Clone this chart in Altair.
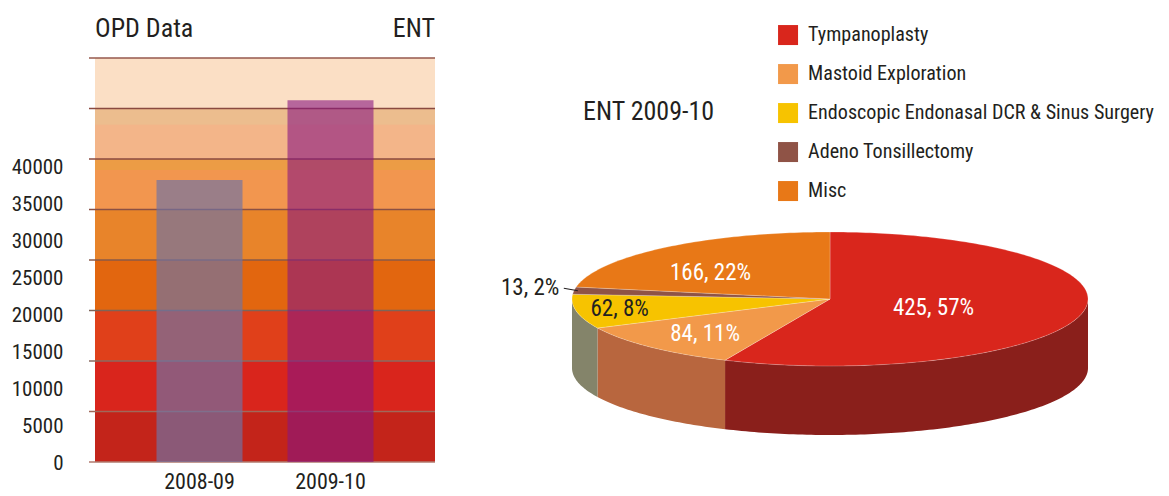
import math
import altair as alt
import pandas as pd

FONT = "Roboto Condensed"
INK = "#231f20"

# ---- left chart values
years = ["2008-09", "2009-10"]
opd = [38100, 48900]
tick_values = [0, 5000, 10000, 15000, 20000, 25000, 30000, 35000, 40000]
band_colors = ["#c3241a", "#d9251c", "#e0401a", "#e2660f", "#e8842a", "#f2964f", "#f3b589", "#fbdfc5"]
strip_lo = [5.78, 6.68]
strip_hi = [6.0, 7.0]
strip_colors = ["#ec9c45", "#ecbd8e"]
rule_colors = ["#b07a6e", "#a0685a", "#8a6a60", "#7e6458", "#8a5a48", "#8a5044", "#8a4a40", "#8a4a40", "#96584c"]
bar_colors = ["#7073a4", "#881681"]
bar_opacity = [0.68, 0.6]

# ---- pie values
names = ["Tympanoplasty", "Mastoid Exploration", "Endoscopic Endonasal DCR & Sinus Surgery", "Adeno Tonsillectomy", "Misc"]
counts = [425, 84, 62, 13, 166]
percents = [57, 11, 8, 2, 22]
pie_colors = ["#d9261c", "#f2994a", "#f7c300", "#8f5346", "#e87817"]
side_colors = ["#8a1f1b", "#b8663e", "#84846a", "#6b3a30", "#a85510"]
label_colors = ["#ffffff", "#ffffff", INK, INK, "#ffffff"]
label_radius = [0.41, 0.695, 0.83, 1.174, 0.615]
label_turn = [0, 0, 0, 1, -9]
label_drop = [3, 2, 0, 0, 1]

# ---- chart geometry (chart coordinates, page margin excluded)
W, H = 1153, 487
PLOT_L, PLOT_R, PLOT_T, PLOT_B = 87, 427, 50, 454
CX, CY, RX, RY, DEPTH = 822, 291, 258, 67, 69


def pt(deg, r=1.0, dy=0.0):
    a = math.radians(deg)
    return [CX + RX * r * math.sin(a), CY - RY * r * math.cos(a) + dy]


def arc(a, b, dy=0.0):
    n = max(2, int(abs(b - a)) + 2)
    return [pt(a + (b - a) * i / (n - 1), 1.0, dy) for i in range(n)]


total = sum(counts)
edges = [0.0]
for c in counts:
    edges.append(edges[-1] + c / total * 360)

tops, sides = [], []
for i, name in enumerate(names):
    a, b = edges[i], edges[i + 1]
    ring = [[CX, CY]] + arc(a, b) + [[CX, CY]]
    tops.append({"type": "Feature", "properties": {"name": name},
                 "geometry": {"type": "Polygon", "coordinates": [ring]}})
    lo, hi = max(a, 90), min(b, 270)
    if hi > lo:
        ring = arc(lo, hi) + arc(hi, lo, DEPTH)
        ring.append(ring[0])
        sides.append({"type": "Feature", "properties": {"name": name},
                      "geometry": {"type": "Polygon", "coordinates": [ring]}})


def geo(features):
    return alt.InlineData(values={"type": "FeatureCollection", "features": features},
                          format=alt.DataFormat(property="features", type="json"))


# ---- left chart
band_df = pd.DataFrame({"lo": range(8), "hi": range(1, 9), "c": band_colors})
band_y = alt.Scale(domain=[0, 8], range=[PLOT_B, PLOT_T])
bands = alt.Chart(band_df).mark_rect().encode(
    x=alt.value(PLOT_L), x2=alt.value(PLOT_R),
    y=alt.Y("lo:Q", scale=band_y, axis=None), y2="hi:Q",
    color=alt.Color("c:N", scale=None, legend=None),
)
strips = alt.Chart(pd.DataFrame({"lo": strip_lo, "hi": strip_hi, "c": strip_colors})).mark_rect().encode(
    x=alt.value(PLOT_L), x2=alt.value(PLOT_R),
    y=alt.Y("lo:Q", scale=band_y, axis=None), y2="hi:Q",
    color=alt.Color("c:N", scale=None, legend=None),
)

y_max = 40000 * (PLOT_B - PLOT_T) / 296
bar_df = pd.DataFrame({"year": years, "opd": opd, "c": bar_colors, "o": bar_opacity})
bars = alt.Chart(bar_df).mark_bar().encode(
    x=alt.X("year:N", title=None, sort=years,
            scale=alt.Scale(domain=years, range=[PLOT_L, PLOT_R], paddingInner=0.3435, paddingOuter=0.4696),
            axis=alt.Axis(orient="bottom", offset=PLOT_B - H, labelAngle=0, ticks=False, domain=False,
                          labelFont=FONT, labelFontSize=22, labelColor=INK, labelPadding=9)),
    y=alt.Y("opd:Q", title=None, scale=alt.Scale(domain=[0, y_max], range=[PLOT_B, PLOT_T], nice=False),
            axis=alt.Axis(orient="left", offset=-PLOT_L, values=tick_values, format="d", grid=False,
                          ticks=False, domain=False, labelFont=FONT, labelFontSize=21, labelColor=INK,
                          labelPadding=32, labelOffset=1)),
    color=alt.Color("c:N", scale=None, legend=None),
    opacity=alt.Opacity("o:Q", scale=None, legend=None),
)

rule_df = pd.DataFrame({"i": range(9), "c": rule_colors})
rules = alt.Chart(rule_df).mark_rule(strokeWidth=1.3).encode(
    x=alt.value(PLOT_L - 6), x2=alt.value(PLOT_R),
    y=alt.Y("i:Q", scale=band_y, axis=None),
    color=alt.Color("c:N", scale=None, legend=None),
)

# ---- pie
side_layer = alt.Chart(geo(sides)).mark_geoshape(strokeWidth=0).encode(
    color=alt.Color("properties.name:N", legend=None, scale=alt.Scale(domain=names, range=side_colors)),
).project(**{"type": "identity", "scale": 1, "translate": [0, 0]})

top_layer = alt.Chart(geo(tops)).mark_geoshape(stroke="#ffffff", strokeWidth=0.4, strokeOpacity=0.6).encode(
    color=alt.Color("properties.name:N",
                    scale=alt.Scale(domain=names, range=pie_colors),
                    legend=alt.Legend(orient="none", legendX=770, legendY=17, title=None,
                                      symbolType="square", symbolSize=400, symbolStrokeWidth=0,
                                      labelFont=FONT, labelFontSize=20.1, labelColor=INK,
                                      labelLimit=500, labelOffset=10, rowPadding=18, padding=0)),
).project(**{"type": "identity", "scale": 1, "translate": [0, 0]})

label_rows = []
for i in range(len(names)):
    mid = (edges[i] + edges[i + 1]) / 2 + label_turn[i]
    x, y = pt(mid, label_radius[i], label_drop[i])
    label_rows.append({"x": x, "y": y, "t": f"{counts[i]}, {percents[i]}%", "c": label_colors[i]})
pie_labels = alt.Chart(pd.DataFrame(label_rows)).mark_text(font=FONT, fontSize=23).encode(
    x=alt.X("x:Q", scale=None, axis=None), y=alt.Y("y:Q", scale=None, axis=None),
    text="t:N", color=alt.Color("c:N", scale=None, legend=None),
)

adeno_mid = (edges[3] + edges[4]) / 2
p0, p1 = pt(adeno_mid, 1.04, -2), pt(adeno_mid, 0.985)
leader = alt.Chart(pd.DataFrame([{"x": p0[0], "y": p0[1], "x2": p1[0], "y2": p1[1]}])).mark_rule(
    color=INK, strokeWidth=1.2).encode(
    x=alt.X("x:Q", scale=None, axis=None), y=alt.Y("y:Q", scale=None, axis=None),
    x2="x2:Q", y2="y2:Q",
)

# ---- headings
titles = pd.DataFrame([
    {"t": "OPD Data", "x": PLOT_L, "y": 21},
    {"t": "ENT 2009-10", "x": 575, "y": 104},
])
heads = alt.Chart(titles).mark_text(font=FONT, fontSize=26, align="left", color=INK).encode(
    x=alt.X("x:Q", scale=None, axis=None), y=alt.Y("y:Q", scale=None, axis=None), text="t:N",
)
ent = alt.Chart(pd.DataFrame([{"t": "ENT", "x": PLOT_R, "y": 21}])).mark_text(
    font=FONT, fontSize=26, align="right", color=INK).encode(
    x=alt.X("x:Q", scale=None, axis=None), y=alt.Y("y:Q", scale=None, axis=None), text="t:N",
)

chart = alt.layer(bands, strips, rules, bars, side_layer, top_layer, pie_labels, leader, heads, ent).resolve_scale(
    x="independent", y="independent", color="independent", opacity="independent",
).resolve_axis(x="independent", y="independent").properties(
    width=W, height=H, padding=0, autosize=alt.AutoSizeParams(type="none"),
).configure_view(stroke=None)

chart.save("out.html", embed_options={"renderer": "svg", "actions": False})
